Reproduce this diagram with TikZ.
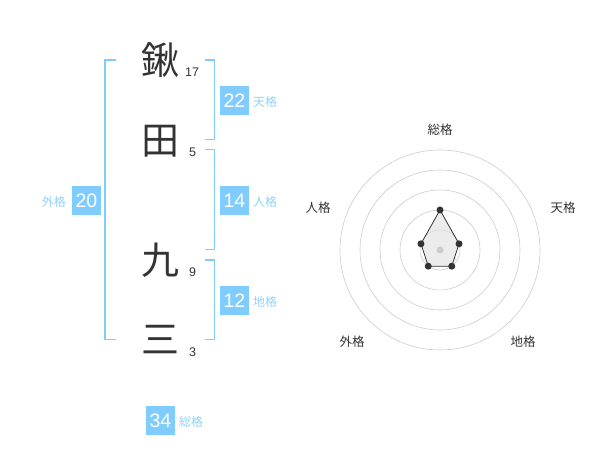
\documentclass[tikz,border=0pt]{standalone}
\usepackage{fontspec}
\usetikzlibrary{calc}
\setmainfont{Liberation Sans}
\newfontfamily\cjk{Noto Sans CJK JP}
\definecolor{kblue}{HTML}{80CCFF}
\definecolor{klab}{HTML}{8FD2FA}
\definecolor{kdark}{HTML}{333333}
\definecolor{kgrid}{HTML}{CCCCCC}
\begin{document}
\begin{tikzpicture}[x=1pt,y=-1pt,
  kanji/.style={font=\cjk\fontsize{38}{38}\selectfont, text=kdark, inner sep=0pt},
  strokes/.style={font=\fontsize{12.5}{12.5}\selectfont, text=kdark, inner sep=0pt, anchor=west},
  bracket/.style={draw=kblue, line width=1.8pt},
  numbox/.style={fill=kblue, text=white, minimum width=29pt, minimum height=29pt, inner sep=0pt, font=\fontsize{19.5}{19.5}\selectfont},
  kaku/.style={font=\cjk\fontsize{12}{12}\selectfont, text=klab, inner sep=0pt},
  radlab/.style={font=\cjk\fontsize{12.5}{12.5}\selectfont, text=kdark, inner sep=0pt},
  grid/.style={draw=kgrid, line width=0.6pt},
  dot/.style={circle, fill=kdark, inner sep=0pt, minimum size=7pt}
]
\useasboundingbox (0,0) rectangle (600,470);
% characters
\node[kanji] (c1) at (160,60) {鍬};
\node[kanji] (c2) at (160,141) {田};
\node[kanji] (c3) at (160,260) {九};
\node[kanji] (c4) at (160,340) {三};
\node[strokes] (n1) at (185,72.5) {17};
\node[strokes] (n2) at (189,152.5) {5};
\node[strokes] (n3) at (189,272.5) {9};
\node[strokes] (n4) at (189,352.5) {3};
% brackets
\coordinate (L1) at (116,60); \coordinate (L2) at (105,60);
\coordinate (L3) at (105,339.5); \coordinate (L4) at (116,339.5);
\draw[bracket] (L1) -- (L2) -- (L3) -- (L4);
\coordinate (T1) at (205,60); \coordinate (T2) at (214.5,60);
\coordinate (T3) at (214.5,139.5); \coordinate (T4) at (205,139.5);
\draw[bracket] (T1) -- (T2) -- (T3) -- (T4);
\coordinate (J1) at (205,149.5); \coordinate (J2) at (214.5,149.5);
\coordinate (J3) at (214.5,249.5); \coordinate (J4) at (205,249.5);
\draw[bracket] (J1) -- (J2) -- (J3) -- (J4);
\coordinate (C1) at (205,260); \coordinate (C2) at (214.5,260);
\coordinate (C3) at (214.5,339.5); \coordinate (C4) at (205,339.5);
\draw[bracket] (C1) -- (C2) -- (C3) -- (C4);
% boxes
\node[numbox] (b22) at (234.5,100.5) {22};
\node[kaku, anchor=west] (k22) at (253,101.5) {天格};
\node[numbox] (b14) at (234.5,200.5) {14};
\node[kaku, anchor=west] (k14) at (253,201.5) {人格};
\node[numbox] (b12) at (234.5,300.5) {12};
\node[kaku, anchor=west] (k12) at (253,301.5) {地格};
\node[numbox] (b20) at (86.5,200.5) {20};
\node[kaku, anchor=east] (k20) at (66,201.5) {外格};
\node[numbox] (b34) at (160.5,420.5) {34};
\node[kaku, anchor=west] (k34) at (179,421.5) {総格};
% radar
\coordinate (O) at (440,250);
\foreach \r in {20,40,60,80,100} \draw[grid] (O) circle[radius=\r];
\coordinate (p1) at ($(O)+(0,-40)$);
\coordinate (p2) at ($(O)+(19.02,-6.18)$);
\coordinate (p3) at ($(O)+(11.76,16.18)$);
\coordinate (p4) at ($(O)+(-11.76,16.18)$);
\coordinate (p5) at ($(O)+(-19.02,-6.18)$);
\fill[black!12, opacity=0.6] (p1) -- (p2) -- (p3) -- (p4) -- (p5) -- cycle;
\draw[kdark, line width=0.8pt] (p1) -- (p2) -- (p3) -- (p4) -- (p5) -- cycle;
\node[circle, fill=kgrid, inner sep=0pt, minimum size=7pt] (ctr) at (O) {};
\foreach \p in {p1,p2,p3,p4,p5} \node[dot] at (\p) {};
\node[radlab] (r1) at (440,130) {総格};
\node[radlab] (r2) at (563,208) {天格};
\node[radlab] (r3) at (523,342) {地格};
\node[radlab] (r4) at (352,342) {外格};
\node[radlab] (r5) at (318,208) {人格};
\end{tikzpicture}
\end{document}
